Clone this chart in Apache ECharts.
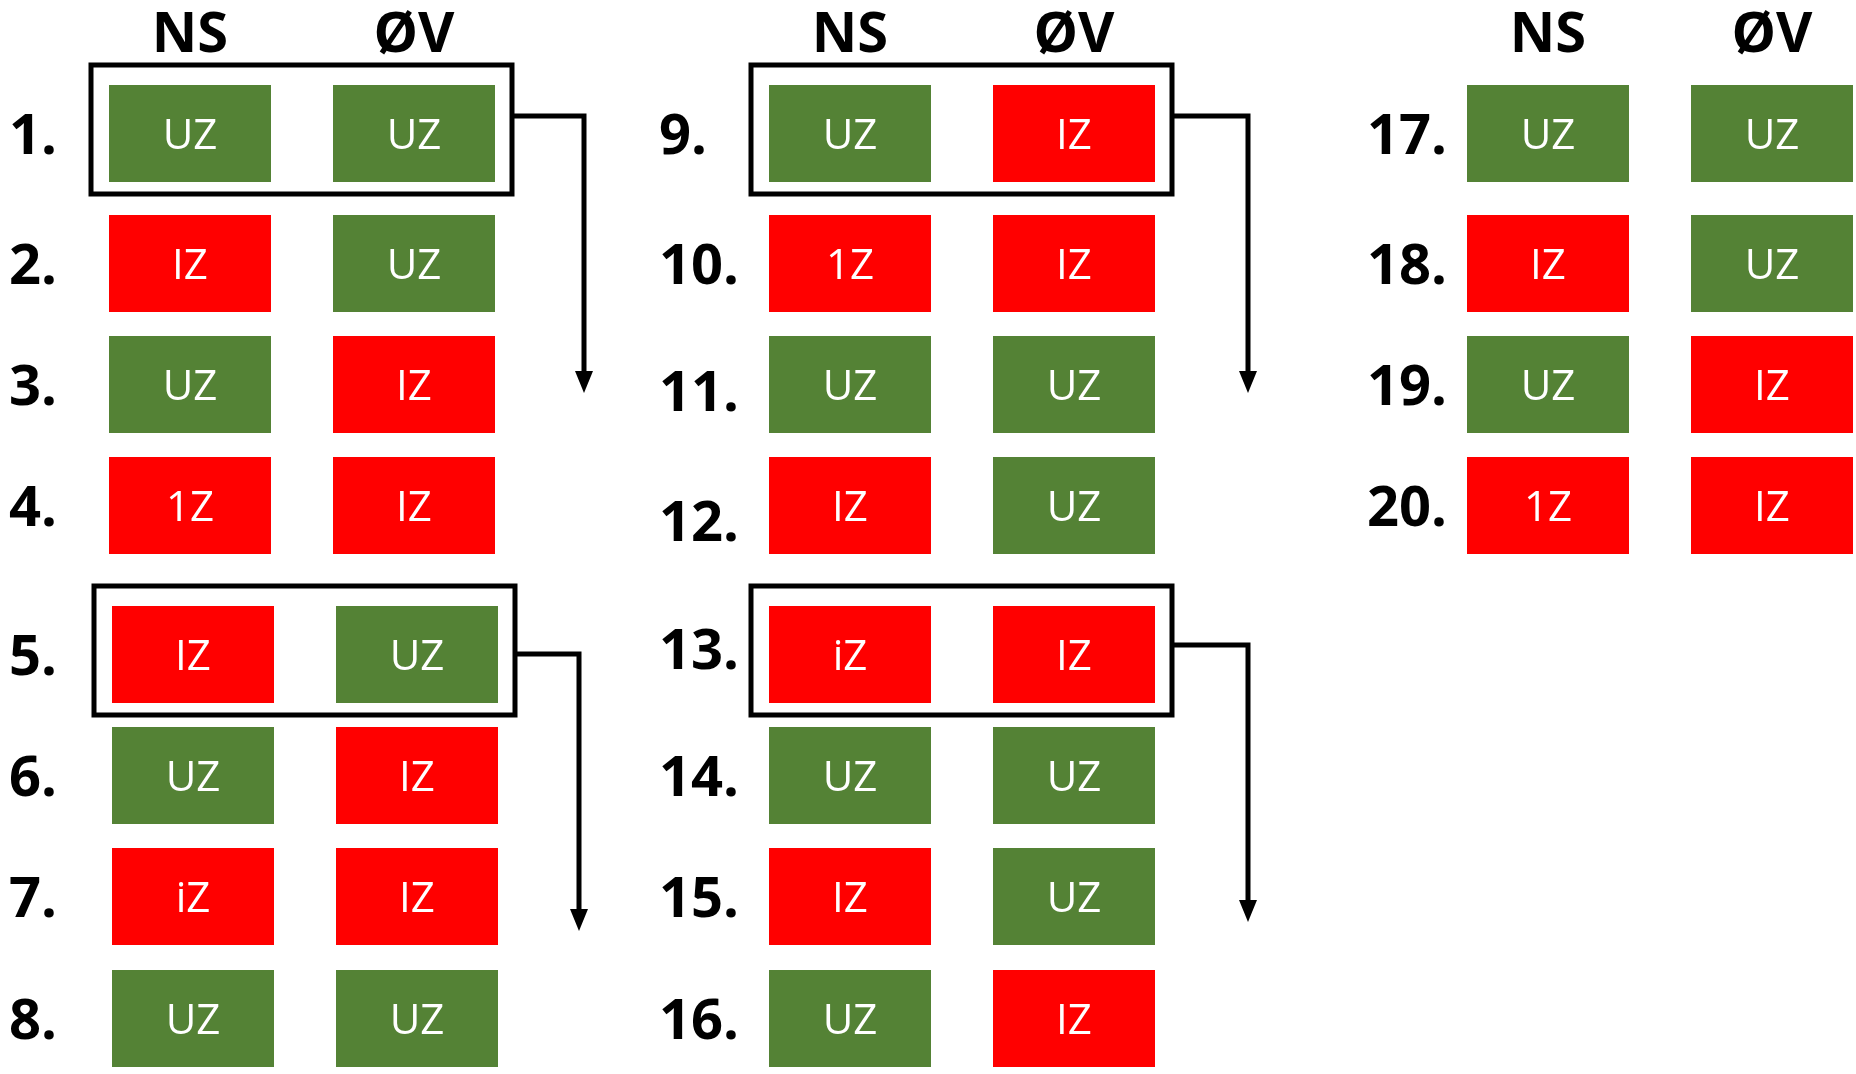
<!DOCTYPE html>
<html>
<head>
<meta charset="utf-8">
<script src="https://cdn.jsdelivr.net/npm/echarts@6/dist/echarts.min.js"></script>
<style>
html, body { margin: 0; padding: 0; background: #fff; }
#chart { width: 1856px; height: 1074px; }
</style>
</head>
<body>
<div id="chart"></div>
<script>
// row numbers, NS / ØV result per row
const rowLabels = ['1.', '2.', '3.', '4.', '5.', '6.', '7.', '8.', '9.', '10.',
  '11.', '12.', '13.', '14.', '15.', '16.', '17.', '18.', '19.', '20.']
const nsValues = ['UZ', 'IZ', 'UZ', '1Z', 'IZ', 'UZ', 'iZ', 'UZ', 'UZ', '1Z',
  'UZ', 'IZ', 'iZ', 'UZ', 'IZ', 'UZ', 'UZ', 'IZ', 'UZ', '1Z']
const ovValues = ['UZ', 'UZ', 'IZ', 'IZ', 'UZ', 'IZ', 'IZ', 'UZ', 'IZ', 'IZ',
  'UZ', 'UZ', 'IZ', 'UZ', 'UZ', 'IZ', 'UZ', 'UZ', 'IZ', 'IZ']
const headerLabels = ['NS', 'ØV']
// rows that get a frame and a down arrow
const boxedRows = [1, 5, 9, 13]

// layout (pixel units of the value axes)
const blockX = [109, 769, 1467]
const labelX = [9, 659, 1367]
const rowTop = [85, 215, 336, 457, 606, 727, 848, 970]
const cellW = 162
const cellH = 97
const colGap = 224
const labelNudge = { 10: 6, 11: 15, 12: -6 }
const arrowDx = [72, 64, 76, 76]
const arrowDy = [31, 48, 31, 39]
const arrowLen = 277

const green = '#548235'
const red = '#FF0000'
const boldFont = 'bold 56px "Open Sans"'

function cellPos(i) {
  const block = Math.floor(i / 8)
  const slot = i % 8
  const shift = block === 0 && slot >= 4 ? 3 : 0
  return { x: blockX[block] + shift, y: rowTop[slot], block: block, slot: slot }
}

function renderCell(params, api) {
  const i = api.value(0)
  const col = api.value(1)
  const p = cellPos(i)
  const text = col === 0 ? nsValues[i] : ovValues[i]
  const x0 = p.x + col * colGap
  const tl = api.coord([x0, p.y])
  const br = api.coord([x0 + cellW, p.y + cellH])
  return {
    type: 'group',
    children: [
      {
        type: 'rect',
        shape: { x: tl[0], y: tl[1], width: br[0] - tl[0], height: br[1] - tl[1] },
        style: { fill: text[0] === 'U' ? green : red }
      },
      {
        type: 'text',
        x: (tl[0] + br[0]) / 2,
        y: (tl[1] + br[1]) / 2 + 4,
        style: { text: text, fill: '#fff', font: '42px "Open Sans"', align: 'center', verticalAlign: 'middle' }
      }
    ]
  }
}

function renderLabel(params, api) {
  const i = api.value(0)
  const p = cellPos(i)
  const pt = api.coord([labelX[p.block], p.y + cellH / 2 + (labelNudge[i] || 0)])
  return {
    type: 'text',
    x: pt[0],
    y: pt[1] + 5,
    style: { text: rowLabels[i], fill: '#000', font: boldFont, align: 'left', verticalAlign: 'middle' }
  }
}

function renderHeader(params, api) {
  const block = api.value(0)
  const col = api.value(1)
  const pt = api.coord([blockX[block] + col * colGap + cellW / 2, 36])
  return {
    type: 'text',
    x: pt[0],
    y: pt[1],
    style: { text: headerLabels[col], fill: '#000', font: boldFont, align: 'center', verticalAlign: 'middle' }
  }
}

function renderBox(params, api) {
  const k = params.dataIndex
  const i = api.value(0) - 1
  const p = cellPos(i)
  const tl = api.coord([p.x - 18, p.y - 20])
  const br = api.coord([p.x + colGap + cellW + 17, p.y + cellH + 12])
  const start = api.coord([p.x + colGap + cellW + 17, p.y + arrowDy[k]])
  const corner = api.coord([p.x + colGap + cellW + 17 + arrowDx[k], p.y + arrowDy[k]])
  const tip = api.coord([p.x + colGap + cellW + 17 + arrowDx[k], p.y + arrowDy[k] + arrowLen])
  return {
    type: 'group',
    children: [
      {
        type: 'rect',
        shape: { x: tl[0], y: tl[1], width: br[0] - tl[0], height: br[1] - tl[1] },
        style: { fill: 'none', stroke: '#000', lineWidth: 5 }
      },
      {
        type: 'polyline',
        shape: { points: [start, corner, [tip[0], tip[1] - 18]] },
        style: { fill: 'none', stroke: '#000', lineWidth: 5 }
      },
      {
        type: 'polygon',
        shape: { points: [[tip[0] - 9, tip[1] - 22], [tip[0] + 9, tip[1] - 22], tip] },
        style: { fill: '#000' }
      }
    ]
  }
}

const cellData = []
rowLabels.forEach((_, i) => { cellData.push([i, 0]); cellData.push([i, 1]) })
const headerData = [[0, 0], [0, 1], [1, 0], [1, 1], [2, 0], [2, 1]]

const chart = echarts.init(document.getElementById('chart'))
chart.setOption({
  animation: false,
  grid: { left: 0, right: 0, top: 0, bottom: 0 },
  xAxis: { type: 'value', min: 0, max: 1856, show: false },
  yAxis: { type: 'value', min: 0, max: 1074, inverse: true, show: false },
  series: [
    { type: 'custom', renderItem: renderCell, data: cellData, silent: true },
    { type: 'custom', renderItem: renderLabel, data: rowLabels.map((_, i) => [i, 0]), silent: true },
    { type: 'custom', renderItem: renderHeader, data: headerData, silent: true },
    { type: 'custom', renderItem: renderBox, data: boxedRows.map(r => [r, 0]), silent: true }
  ]
})
</script>
</body>
</html>
